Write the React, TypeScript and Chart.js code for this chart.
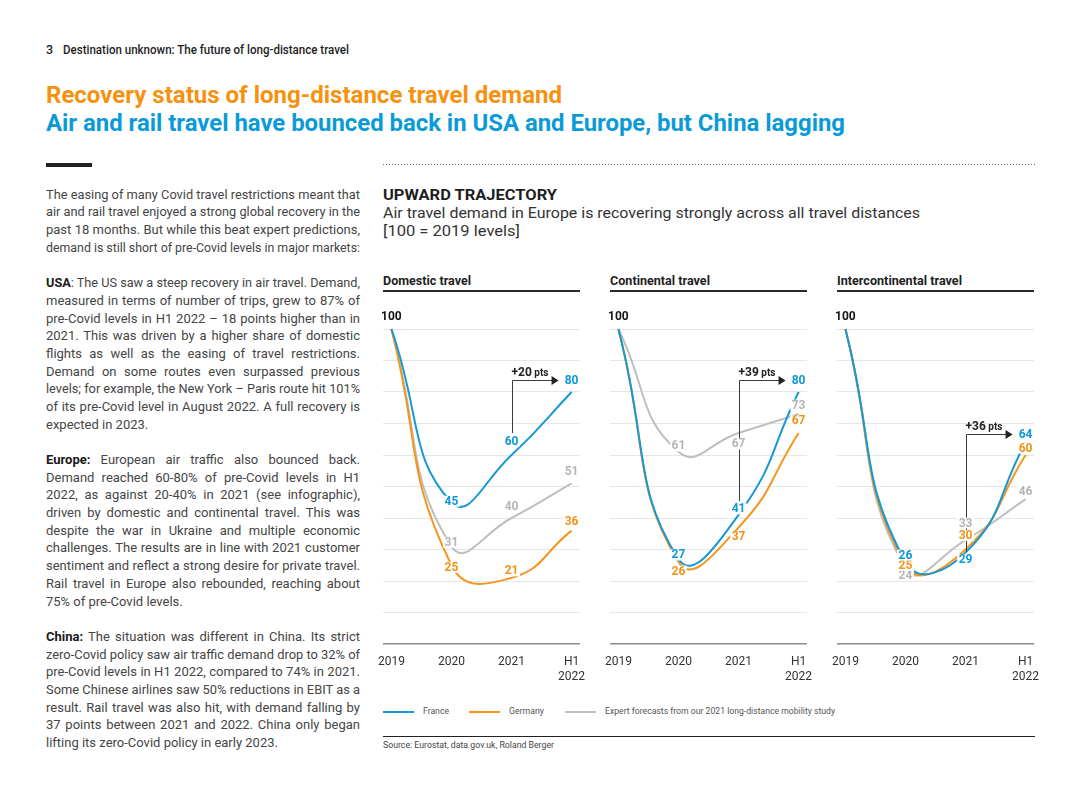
import React, { useEffect, useLayoutEffect, useRef } from 'react';
import { Chart, registerables } from 'chart.js';

Chart.register(...registerables);
Chart.defaults.font.family = 'Roboto';

// ---------- data ----------
const YEAR_LABELS: (string | string[])[] = ['2019', '2020', '2021', ['H1', '2022']];
const PANEL_TITLES = ['Domestic travel', 'Continental travel', 'Intercontinental travel'];
const SERIES_NAMES = ['France', 'Germany', 'Expert forecasts from our 2021 long-distance mobility study'];

const DOMESTIC_FRANCE = [100, 45, 60, 80];
const DOMESTIC_GERMANY = [100, 25, 21, 36];
const DOMESTIC_FORECAST = [100, 31, 40, 51];

const CONTINENTAL_FRANCE = [100, 27, 41, 80];
const CONTINENTAL_GERMANY = [100, 26, 37, 67];
const CONTINENTAL_FORECAST = [100, 61, 67, 73];

const INTERCONTINENTAL_FRANCE = [100, 26, 29, 64];
const INTERCONTINENTAL_GERMANY = [100, 25, 30, 60];
const INTERCONTINENTAL_FORECAST = [100, 24, 33, 46];

const GAINS = [20, 39, 36];

// ---------- styles ----------
const LINE_COLORS = ['#1798D5', '#F7941D', '#BFBFBF'];
const LABEL_COLORS = ['#0E97D6', '#F39214', '#B5B5B5'];
// vertical label offsets (px from point) per series, per year index
const DOMESTIC_LABEL_DY = [[-12, -1, -14, -12], [-12, 2, -7, -9], [-12, -4, -12, -12]];
const CONTINENTAL_LABEL_DY = [[-12, -4, -6, -12], [-12, 9, 9, -12], [-12, -6, 11, -9]];
const INTERCONTINENTAL_LABEL_DY = [[-12, -7, 7, -8], [-12, 0, -14, -7], [-12, 7, -17, -8]];

const PANELS = [
  { title: PANEL_TITLES[0], series: [DOMESTIC_FRANCE, DOMESTIC_GERMANY, DOMESTIC_FORECAST], gain: GAINS[0], dy: DOMESTIC_LABEL_DY, left: 383, titleW: 88 },
  { title: PANEL_TITLES[1], series: [CONTINENTAL_FRANCE, CONTINENTAL_GERMANY, CONTINENTAL_FORECAST], gain: GAINS[1], dy: CONTINENTAL_LABEL_DY, left: 610, titleW: 100 },
  { title: PANEL_TITLES[2], series: [INTERCONTINENTAL_FRANCE, INTERCONTINENTAL_GERMANY, INTERCONTINENTAL_FORECAST], gain: GAINS[2], dy: INTERCONTINENTAL_LABEL_DY, left: 837, titleW: 125 },
];

// ---------- text ----------
type BodyLine = { bold?: string; text: string; justify: boolean } | null;
const BODY: BodyLine[] = [
  { text: 'The easing of many Covid travel restrictions meant that', justify: true },
  { text: 'air and rail travel enjoyed a strong global recovery in the', justify: true },
  { text: 'past 18 months. But while this beat expert predictions,', justify: true },
  { text: 'demand is still short of pre-Covid levels in major markets:', justify: true },
  null,
  { bold: 'USA', text: ': The US saw a steep recovery in air travel. Demand,', justify: true },
  { text: 'measured in terms of number of trips, grew to 87% of', justify: true },
  { text: 'pre-Covid levels in H1 2022 \u2013 18 points higher than in', justify: true },
  { text: '2021. This was driven by a higher share of domestic', justify: true },
  { text: 'flights as well as the easing of travel restrictions.', justify: true },
  { text: 'Demand on some routes even surpassed previous', justify: true },
  { text: 'levels; for example, the New York \u2013 Paris route hit 101%', justify: true },
  { text: 'of its pre-Covid level in August 2022. A full recovery is', justify: true },
  { text: 'expected in 2023.', justify: false },
  null,
  { bold: 'Europe:', text: ' European air traffic also bounced back.', justify: true },
  { text: 'Demand reached 60-80% of pre-Covid levels in H1', justify: true },
  { text: '2022, as against 20-40% in 2021 (see infographic),', justify: true },
  { text: 'driven by domestic and continental travel. This was', justify: true },
  { text: 'despite the war in Ukraine and multiple economic', justify: true },
  { text: 'challenges. The results are in line with 2021 customer', justify: true },
  { text: 'sentiment and reflect a strong desire for private travel.', justify: true },
  { text: 'Rail travel in Europe also rebounded, reaching about', justify: true },
  { text: '75% of pre-Covid levels.', justify: false },
  null,
  { bold: 'China:', text: ' The situation was different in China. Its strict', justify: true },
  { text: 'zero-Covid policy saw air traffic demand drop to 32% of', justify: true },
  { text: 'pre-Covid levels in H1 2022, compared to 74% in 2021.', justify: true },
  { text: 'Some Chinese airlines saw 50% reductions in EBIT as a', justify: true },
  { text: 'result. Rail travel was also hit, with demand falling by', justify: true },
  { text: '37 points between 2021 and 2022. China only began', justify: true },
  { text: 'lifting its zero-Covid policy in early 2023.', justify: false },
];

// ---------- helpers ----------
function T({ x, base, size, weight = 400, color = '#222', width, children }: any) {
  const ref = useRef<HTMLSpanElement>(null);
  useLayoutEffect(() => {
    const el = ref.current;
    if (!el || !width) return;
    el.style.transform = 'none';
    const w = el.getBoundingClientRect().width;
    if (w > 0) el.style.transform = `scaleX(${width / w})`;
  }, [width]);
  return (
    <div style={{ position: 'absolute', left: x, top: base - 0.842 * size, fontSize: size, lineHeight: `${size}px`, fontWeight: weight, color, fontFamily: 'Roboto', whiteSpace: 'pre' }}>
      <span ref={ref} style={{ display: 'inline-block', transformOrigin: '0 0' }}>{children}</span>
    </div>
  );
}

const BODY_LH = 17.7;
const BODY_W = 314;
function JLine({ line }: { line: BodyLine }) {
  const ref = useRef<HTMLSpanElement>(null);
  useLayoutEffect(() => {
    const el = ref.current;
    if (!el || !line || !line.justify) return;
    el.style.wordSpacing = '0px';
    el.style.transform = 'none';
    const w = el.getBoundingClientRect().width;
    const txt = el.textContent || '';
    const spaces = (txt.match(/ /g) || []).length;
    if (w > BODY_W) el.style.transform = `scaleX(${BODY_W / w})`;
    else if (spaces > 0) el.style.wordSpacing = `${(BODY_W - w) / spaces}px`;
  }, [line]);
  if (!line) return <div style={{ height: BODY_LH }} />;
  return (
    <div style={{ height: BODY_LH, lineHeight: `${BODY_LH}px`, whiteSpace: 'pre' }}>
      <span ref={ref} style={{ display: 'inline-block', transformOrigin: '0 0' }}>
        {line.bold ? <b style={{ color: '#1a1a1a', fontWeight: 700 }}>{line.bold}</b> : null}
        {line.text}
      </span>
    </div>
  );
}

// ---------- chart plugin ----------
const panelLabels = {
  id: 'panelLabels',
  afterDatasetsDraw(chart: any, _args: any, opts: any) {
    const p = opts.panel;
    if (!p) return;
    const { ctx } = chart;
    const x = chart.scales.x;
    const y = chart.scales.y;
    const fr = p.series[0];
    ctx.save();
    // annotation bracket
    const ax = Math.round(x.getPixelForValue(2)) + 0.5;
    const endX = x.getPixelForValue(3);
    const arrowY = Math.round(y.getPixelForValue(fr[3]) + p.dy[0][3]) + 0.5;
    const lblY = y.getPixelForValue(fr[2]) + p.dy[0][2];
    const bottomY = lblY - 8;
    ctx.strokeStyle = '#3a3a3a';
    ctx.lineWidth = 1;
    ctx.beginPath();
    ctx.moveTo(ax, bottomY);
    ctx.lineTo(ax, arrowY);
    ctx.lineTo(endX - 19, arrowY);
    ctx.stroke();
    ctx.fillStyle = '#222';
    ctx.beginPath();
    ctx.moveTo(endX - 13, arrowY);
    ctx.lineTo(endX - 20, arrowY - 4.5);
    ctx.lineTo(endX - 20, arrowY + 4.5);
    ctx.closePath();
    ctx.fill();
    ctx.textAlign = 'left';
    ctx.textBaseline = 'alphabetic';
    ctx.font = 'bold 12px Roboto';
    const t1 = `+${p.gain}`;
    ctx.fillText(t1, ax - 1, arrowY - 5);
    const w1 = ctx.measureText(t1).width;
    ctx.font = 'bold 10px Roboto';
    ctx.fillText(' pts', ax - 1 + w1, arrowY - 5);

    // "100" start label
    ctx.font = 'bold 12px Roboto';
    ctx.textAlign = 'center';
    ctx.textBaseline = 'middle';
    ctx.fillStyle = '#151515';
    ctx.fillText(String(fr[0]), x.getPixelForValue(0), y.getPixelForValue(fr[0]) - 12);

    // value labels
    for (let s = p.series.length - 1; s >= 0; s--) {
      const data = p.series[s];
      for (let i = 1; i < data.length; i++) {
        const px = x.getPixelForValue(i);
        const py = y.getPixelForValue(data[i]) + p.dy[s][i];
        const txt = String(data[i]);
        const w = ctx.measureText(txt).width;
        ctx.fillStyle = '#ffffff';
        ctx.fillRect(px - w / 2 - 1.5, py - 5.5, w + 3, 11);
        ctx.fillStyle = LABEL_COLORS[s];
        ctx.fillText(txt, px, py + 0.5);
      }
    }
    ctx.restore();
  },
};

const CW = 221;
const CH = 390;

function Panel({ panel }: any) {
  const ref = useRef<HTMLCanvasElement>(null);
  useEffect(() => {
    if (!ref.current) return;
    const chart = new Chart(ref.current, {
      type: 'line',
      data: {
        datasets: panel.series.map((vals: number[], s: number) => ({
          label: SERIES_NAMES[s],
          data: vals.map((v, i) => ({ x: i, y: v })),
          borderColor: LINE_COLORS[s],
          backgroundColor: LINE_COLORS[s],
          borderWidth: 2,
          pointRadius: 0,
          tension: 0.5,
          fill: false,
          clip: false,
          order: s + 1,
        })),
      },
      options: {
        animation: false,
        responsive: false,
        maintainAspectRatio: false,
        events: [],
        layout: { padding: { left: 10, right: 14, top: 29, bottom: 6 } },
        plugins: {
          legend: { display: false },
          tooltip: { enabled: false },
          panelLabels: { panel },
        } as any,
        scales: {
          x: {
            type: 'linear',
            min: -0.14,
            max: 3.14,
            grid: { display: false, drawTicks: false },
            border: { display: false },
            afterBuildTicks: (s: any) => {
              s.ticks = YEAR_LABELS.map((_, i) => ({ value: i }));
            },
            afterFit: (s: any) => {
              s.height = 40;
              s.paddingLeft = 0;
              s.paddingRight = 0;
            },
            ticks: {
              padding: 10,
              color: '#333',
              font: { family: 'Roboto', size: 12, lineHeight: 1.25 },
              maxRotation: 0,
              autoSkip: false,
              callback: (v: any) => YEAR_LABELS[Math.round(v)] as any,
            },
          },
          y: {
            min: 0,
            max: 100,
            ticks: { display: false, stepSize: 10 },
            border: { display: false },
            grid: {
              drawTicks: false,
              color: (c: any) => (c.tick && c.tick.value === 0 ? '#8c8c8c' : '#e6e6ea'),
              lineWidth: (c: any) => (c.tick && c.tick.value === 0 ? 1.5 : 1),
            },
            afterFit: (s: any) => {
              s.width = 0;
              s.paddingTop = 0;
              s.paddingBottom = 0;
            },
          },
        },
      } as any,
      plugins: [panelLabels as any],
    });
    return () => chart.destroy();
  }, [panel]);
  return (
    <canvas ref={ref} width={CW} height={CH} style={{ position: 'absolute', left: panel.left - 10, top: 300, width: CW, height: CH }} />
  );
}

export default function App() {
  useLayoutEffect(() => {
    document.body.style.margin = '0';
  }, []);
  return (
    <div style={{ position: 'relative', width: 1080, height: 810, background: '#fff', overflow: 'hidden', fontFamily: 'Roboto' }}>
      {/* header */}
      <T x={46} base={55} size={12.5} weight={500} color="#1e1e1e">3</T>
      <T x={63} base={55} size={12.5} weight={500} color="#1e1e1e" width={286}>Destination unknown: The future of long-distance travel</T>
      <T x={46} base={103.3} size={24} weight={700} color="#F5920F" width={516}>Recovery status of long-distance travel demand</T>
      <T x={46} base={131.3} size={24} weight={700} color="#0A9BD7" width={799}>Air and rail travel have bounced back in USA and Europe, but China lagging</T>

      <div style={{ position: 'absolute', left: 46, top: 163, width: 46, height: 4, background: '#222' }} />
      <div style={{ position: 'absolute', left: 383, top: 164, width: 652, height: 1, backgroundImage: 'repeating-linear-gradient(to right, #6a6a6a 0 1px, transparent 1px 3px)' }} />

      {/* body text */}
      <div style={{ position: 'absolute', left: 46, top: 185.7, width: BODY_W, fontSize: 13, color: '#454545', fontFamily: 'Roboto' }}>
        {BODY.map((l, i) => (
          <JLine key={i} line={l} />
        ))}
      </div>

      {/* right header */}
      <T x={383} base={200} size={14} weight={700} color="#1e1e1e" width={174}>UPWARD TRAJECTORY</T>
      <T x={383} base={219} size={15} weight={400} color="#333" width={537}>Air travel demand in Europe is recovering strongly across all travel distances</T>
      <T x={383} base={237} size={15} weight={400} color="#333" width={137}>[100 = 2019 levels]</T>

      {PANELS.map((p, i) => (
        <React.Fragment key={i}>
          <T x={p.left} base={285} size={12} weight={700} color="#1e1e1e" width={p.titleW}>{p.title}</T>
          <div style={{ position: 'absolute', left: p.left, top: 290, width: 197, height: 2, background: '#2a2a2a' }} />
          <Panel panel={p} />
        </React.Fragment>
      ))}

      {/* legend */}
      {[{ l: 383, t: 423, w: 26 }, { l: 469, t: 509, w: 35 }, { l: 565, t: 605, w: 230 }].map((g, i) => (
        <React.Fragment key={i}>
          <div style={{ position: 'absolute', left: g.l, top: 711, width: 31, height: 2, background: LINE_COLORS[i] }} />
          <T x={g.t} base={715} size={9} weight={400} color="#555" width={g.w}>{SERIES_NAMES[i]}</T>
        </React.Fragment>
      ))}
      <div style={{ position: 'absolute', left: 383, top: 736, width: 652, height: 1, background: '#222' }} />
      <T x={383} base={748.5} size={9} weight={400} color="#444" width={171}>Source: Eurostat, data.gov.uk, Roland Berger</T>
    </div>
  );
}
